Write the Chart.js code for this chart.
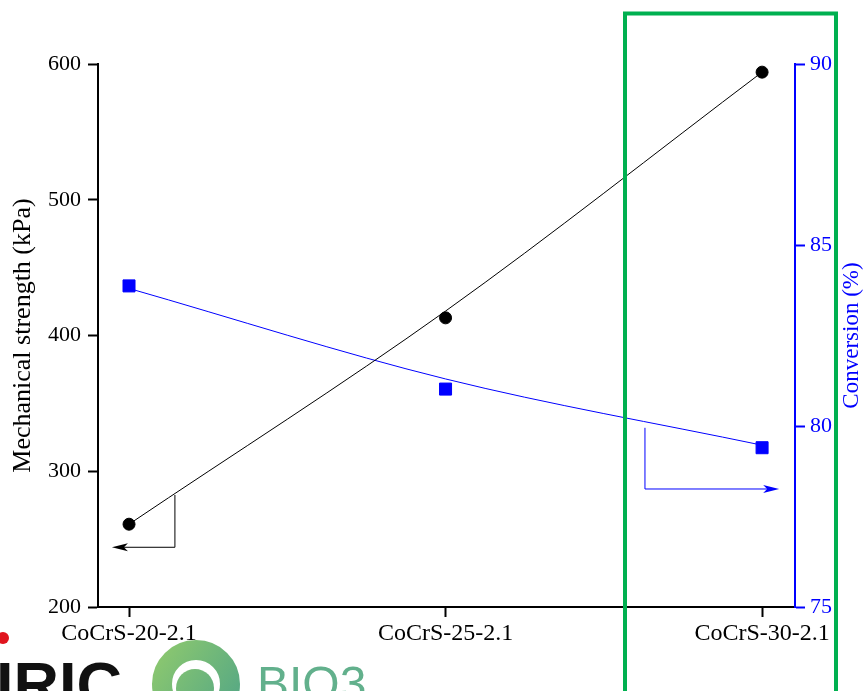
<!DOCTYPE html>
<html>
<head>
<meta charset="utf-8">
<script src="https://cdn.jsdelivr.net/npm/chart.js@4.4.0/dist/chart.umd.min.js"></script>
<style>
  html, body { margin: 0; padding: 0; background: #fff; }
  #wrap { width: 864px; height: 691px; position: relative; }
</style>
</head>
<body>
<div id="wrap"><canvas id="myChart" width="864" height="691"></canvas></div>
<script>
var categories = ['CoCrS-20-2.1', 'CoCrS-25-2.1', 'CoCrS-30-2.1'];
var strength = [261, 413, 594];
var conversion = [83.87, 81.02, 79.4];
// trend curves (they miss the middle points a little)
var strengthFit = [261, 418, 594];
var conversionFit = [83.8, 81.3, 79.47];
var strengthTicks = [200, 300, 400, 500, 600];
var conversionTicks = [75, 80, 85, 90];

// arrow guides, in data units: [x-start, y-start, y-corner, x-tip]
var blackArrow = [0.145, 282.5, 244, -0.054];
var blueArrow = [1.63, 79.95, 78.26, 2.054];

var serif = '"Liberation Serif", "Times New Roman", serif';

function drawArrow(ctx, xs, ys, x0, y0, y1, x1, color) {
    var px0 = xs.getPixelForValue(x0);
    var py0 = ys.getPixelForValue(y0);
    var py1 = ys.getPixelForValue(y1);
    var px1 = xs.getPixelForValue(x1);
    var dir = px1 > px0 ? 1 : -1;
    ctx.save();
    ctx.strokeStyle = color;
    ctx.fillStyle = color;
    ctx.lineWidth = 1;
    ctx.beginPath();
    ctx.moveTo(px0, py0);
    ctx.lineTo(px0, py1);
    ctx.lineTo(px1 - dir * 10, py1);
    ctx.stroke();
    ctx.beginPath();
    ctx.moveTo(px1, py1);
    ctx.lineTo(px1 - dir * 16, py1 - 4);
    ctx.lineTo(px1 - dir * 12, py1);
    ctx.lineTo(px1 - dir * 16, py1 + 4);
    ctx.closePath();
    ctx.fill();
    ctx.restore();
}

var extras = {
    id: 'extras',
    afterDatasetsDraw: function(chart) {
        var ctx = chart.ctx;
        var xs = chart.scales.x;
        drawArrow(ctx, xs, chart.scales.y, blackArrow[0], blackArrow[1], blackArrow[2], blackArrow[3], '#000');
        drawArrow(ctx, xs, chart.scales.y1, blueArrow[0], blueArrow[1], blueArrow[2], blueArrow[3], '#0000ff');
    },
    afterDraw: function(chart) {
        var ctx = chart.ctx;
        var area = chart.chartArea;
        ctx.save();
        // right axis title, reading bottom to top
        ctx.translate(852, (area.top + area.bottom) / 2);
        ctx.rotate(-Math.PI / 2);
        ctx.fillStyle = '#0000ff';
        ctx.font = '23px ' + serif;
        ctx.textAlign = 'center';
        ctx.textBaseline = 'middle';
        ctx.fillText('Conversion (%)', 0, 0);
        ctx.restore();

        ctx.save();
        // green highlight box
        ctx.strokeStyle = '#00b050';
        ctx.lineWidth = 4;
        ctx.strokeRect(625, 13.5, 211, 700);

        // logos at the bottom left
        ctx.fillStyle = '#e0141e';
        ctx.beginPath();
        ctx.arc(3, 638, 6, 0, Math.PI * 2);
        ctx.fill();
        ctx.fillStyle = '#111';
        ctx.font = 'bold 63px "Liberation Sans", Arial, sans-serif';
        ctx.textBaseline = 'alphabetic';
        ctx.fillText('IRIC', -4, 706);

        var g = ctx.createLinearGradient(150, 640, 240, 700);
        g.addColorStop(0, '#93cc6c');
        g.addColorStop(1, '#56a884');
        ctx.strokeStyle = g;
        ctx.lineWidth = 20;
        ctx.beginPath();
        ctx.arc(196, 684, 34, 0, Math.PI * 2);
        ctx.stroke();
        ctx.fillStyle = g;
        ctx.beginPath();
        ctx.arc(195, 688, 19, 0, Math.PI * 2);
        ctx.fill();
        ctx.fillStyle = '#62b08c';
        ctx.font = '48px "Liberation Sans", Arial, sans-serif';
        ctx.fillText('BIO3', 257, 700);
        ctx.restore();
    }
};

function pts(arr) {
    return arr.map(function(v, i) { return { x: i, y: v }; });
}

var ctx = document.getElementById('myChart').getContext('2d');
var myChart = new Chart(ctx, {
    type: 'line',
    data: {
        datasets: [{
            label: 'Mechanical strength trend',
            data: pts(strengthFit),
            yAxisID: 'y',
            borderColor: '#000',
            borderWidth: 1,
            pointRadius: 0,
            cubicInterpolationMode: 'monotone'
        }, {
            label: 'Mechanical strength',
            data: pts(strength),
            yAxisID: 'y',
            showLine: false,
            borderColor: '#000',
            backgroundColor: '#000',
            pointStyle: 'circle',
            pointRadius: 6
        }, {
            label: 'Conversion trend',
            data: pts(conversionFit),
            yAxisID: 'y1',
            borderColor: '#0000ff',
            borderWidth: 1,
            pointRadius: 0,
            cubicInterpolationMode: 'monotone'
        }, {
            label: 'Conversion',
            data: pts(conversion),
            yAxisID: 'y1',
            showLine: false,
            borderColor: '#0000ff',
            backgroundColor: '#0000ff',
            pointStyle: 'rect',
            pointRadius: 8.5
        }]
    },
    options: {
        responsive: false,
        animation: false,
        layout: { padding: { top: 64, left: 0, right: 0, bottom: 0 } },
        plugins: { legend: { display: false }, tooltip: { enabled: false } },
        scales: {
            x: {
                type: 'linear',
                min: -0.098,
                max: 2.104,
                afterBuildTicks: function(axis) {
                    axis.ticks = categories.map(function(c, i) { return { value: i }; });
                },
                afterFit: function(axis) { axis.height = 84; },
                border: { color: '#000', width: 2 },
                grid: { drawOnChartArea: false, drawTicks: true, tickLength: 10, color: '#000', tickWidth: 2 },
                ticks: {
                    color: '#000',
                    padding: 2,
                    maxRotation: 0,
                    font: { family: serif, size: 24 },
                    callback: function(v) { return categories[v]; }
                }
            },
            y: {
                position: 'left',
                min: 200,
                max: 600,
                afterBuildTicks: function(axis) {
                    axis.ticks = strengthTicks.map(function(v) { return { value: v }; });
                },
                afterFit: function(axis) { axis.width = 98; },
                border: { color: '#000', width: 2 },
                grid: { drawOnChartArea: false, tickLength: 10, color: '#000', tickWidth: 2 },
                ticks: { color: '#000', padding: 7, font: { family: serif, size: 22 } },
                title: {
                    display: true,
                    text: 'Mechanical strength (kPa)',
                    color: '#000',
                    padding: { top: 8, bottom: 0 },
                    font: { family: serif, size: 26 }
                }
            },
            y1: {
                position: 'right',
                min: 75,
                max: 90,
                afterBuildTicks: function(axis) {
                    axis.ticks = conversionTicks.map(function(v) { return { value: v }; });
                },
                afterFit: function(axis) { axis.width = 69; },
                border: { color: '#0000ff', width: 2 },
                grid: { drawOnChartArea: false, tickLength: 10, color: '#0000ff', tickWidth: 2 },
                ticks: { color: '#0000ff', padding: 5, font: { family: serif, size: 22 } }
            }
        }
    },
    plugins: [extras]
});
</script>
</body>
</html>
